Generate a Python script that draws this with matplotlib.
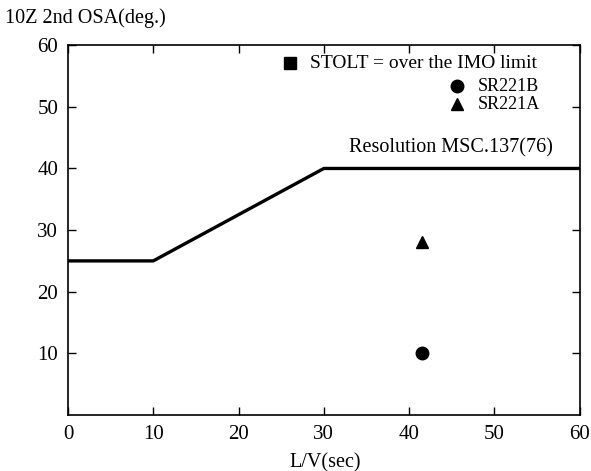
import matplotlib
matplotlib.use('Agg')
import matplotlib.pyplot as plt

# IMO criterion line (Resolution MSC.137(76))
limit_x = [0, 10, 30, 60]
limit_y = [25, 25, 40, 40]

# ship data
sr221b_x = [41.5]
sr221b_y = [10]
sr221a_x = [41.5]
sr221a_y = [28]

plt.rcParams['font.family'] = ['Liberation Serif', 'DejaVu Serif']

fig = plt.figure(figsize=(5.91, 4.71), dpi=100)
ax = fig.add_axes([0.115, 0.119, 0.866, 0.785])

ax.plot(limit_x, limit_y, color='black', linewidth=2.4, solid_capstyle='butt')
ax.plot(sr221b_x, sr221b_y, 'o', color='black', markersize=9)
ax.plot(sr221a_x, sr221a_y, '^', color='black', markersize=9)

ax.set_xlim(0, 60)
ax.set_ylim(0, 60)
ax.set_xticks([0, 10, 20, 30, 40, 50, 60])
ax.set_yticks([10, 20, 30, 40, 50, 60])
ax.tick_params(direction='in', length=6, width=1, top=True, right=True,
               labelsize=15, pad=7)
for s in ax.spines.values():
    s.set_linewidth(1.2)

ax.text(44.9, 43.4, "Resolution MSC.137(76)", fontsize=14.5, ha='center', va='center')

# legend drawn by hand (odd layout in original)
ax.plot([0.434], [0.951], 's', color='black', markersize=8, transform=ax.transAxes, clip_on=False)
ax.text(0.473, 0.951, "STOLT = over the IMO limit", fontsize=14, va='center', transform=ax.transAxes)
ax.plot([0.760], [0.889], 'o', color='black', markersize=9, transform=ax.transAxes)
ax.text(0.800, 0.889, "SR221B", fontsize=13, va='center', transform=ax.transAxes)
ax.plot([0.760], [0.841], '^', color='black', markersize=9, transform=ax.transAxes)
ax.text(0.800, 0.841, "SR221A", fontsize=13, va='center', transform=ax.transAxes)

fig.text(0.008, 0.962, "10Z 2nd OSA(deg.)", fontsize=14.5, va='center', ha='left')
fig.text(0.55, 0.018, "L/V(sec)", fontsize=14.5, va='center', ha='center')

fig.savefig("out.png", dpi=100)
